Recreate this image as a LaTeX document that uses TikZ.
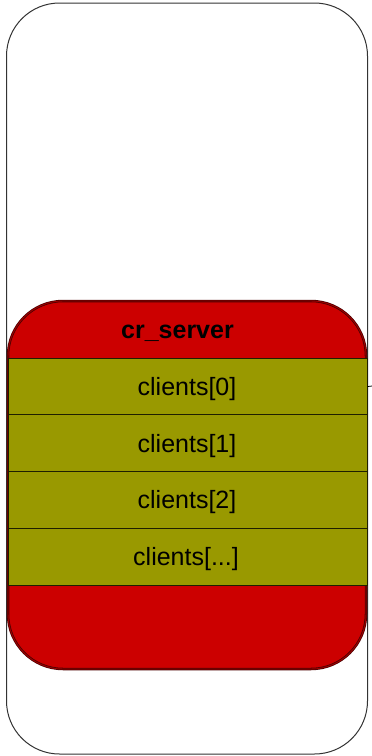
\documentclass[tikz,border=0pt]{standalone}
\usepackage{fontspec}
\setmainfont{Liberation Sans}
\definecolor{srvred}{HTML}{CC0000}
\definecolor{rowolive}{HTML}{999900}
\definecolor{srvedge}{HTML}{4D0000}
\definecolor{srvmid}{HTML}{A00000}
\begin{document}
\begin{tikzpicture}[x=1pt,y=-1pt,
  rowbox/.style={draw=black!80!rowolive, line width=1pt, fill=rowolive, minimum width=359pt, minimum height=56.7pt, inner sep=0pt, anchor=north west},
  rowtext/.style={font=\fontsize{25}{28}\selectfont, anchor=base, inner sep=0pt},
  titletext/.style={font=\bfseries\fontsize{25}{28}\selectfont, anchor=base, inner sep=0pt}]
\useasboundingbox (0,0) rectangle (372,756);
% outer container
\draw[black!80, line width=1pt, rounded corners=53pt] (6.5,3) rectangle (367.5,754);
% cr_server body
\path[fill=srvred, rounded corners=55pt] (8,301) rectangle (366,669);
\draw[draw=srvedge, double=srvmid, double distance=0.9pt, line width=0.8pt, rounded corners=55pt] (8,301) rectangle (366,669);
\node[titletext] (title) at (177.5,338) {cr\_server};
% rows
\node[rowbox] (r0) at (7.5,357.7) {};
\node[rowbox] (r1) at (7.5,414.4) {};
\node[rowbox] (r2) at (7.5,471.1) {};
\node[rowbox] (r3) at (7.5,527.8) {};
\node[rowtext] (t0) at (187,395.5) {clients[0]};
\node[rowtext] (t1) at (187,452.2) {clients[1]};
\node[rowtext] (t2) at (187,508.9) {clients[2]};
\node[rowtext] (t3) at (186,565.6) {clients[...]};
% stub connector
\coordinate (stubend) at (372,386);
\draw[black, line width=0.8pt] (r0.east) -- (stubend);
\end{tikzpicture}
\end{document}
